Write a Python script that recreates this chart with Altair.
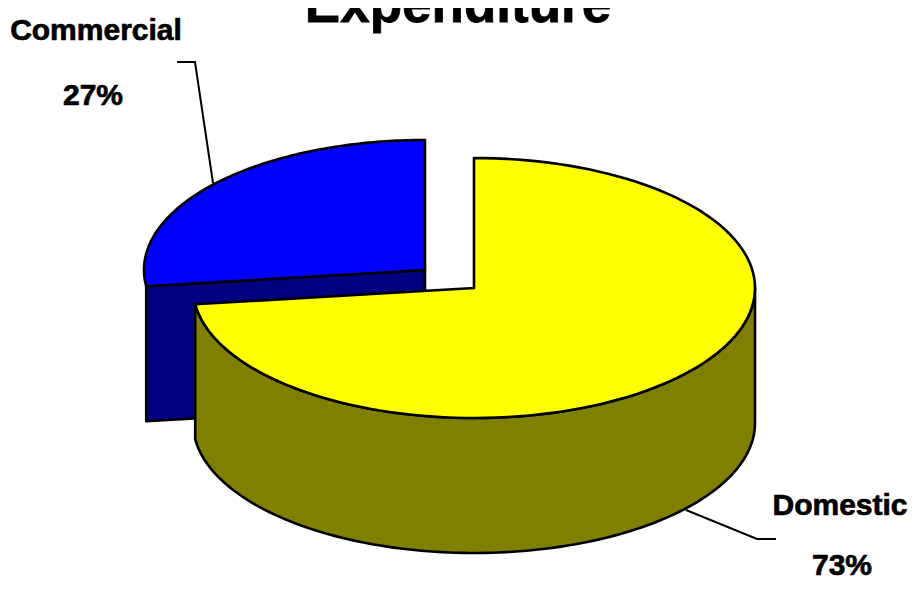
import math
import altair as alt
import pandas as pd

# values shown on the chart
categories = ["Domestic", "Commercial"]
shares = [73, 27]
title_text = "Expenditure"

# layout of the tilted pie, in page pixels
W, H = 903, 573
RX, RY, DEPTH = 281, 130, 135
CX = {"Domestic": 474, "Commercial": 425}
CY = {"Domestic": 288, "Commercial": 270}
TOP = {"Domestic": "#ffff00", "Commercial": "#0000ff"}
SIDE = {"Domestic": "#808000", "Commercial": "#000080"}


def pt(cat, deg, drop=0):
    r = math.radians(deg)
    return (CX[cat] + RX * math.cos(r), CY[cat] - RY * math.sin(r) + drop)


def arc(cat, a0, a1, n=120):
    return [pt(cat, a0 + (a1 - a0) * k / n) for k in range(n + 1)]


dom_end = 90 - 360 * shares[0] / 100
com_end = 90 + 360 * shares[1] / 100

polys = []
# Commercial: cut wall below the top, then the top
a = pt("Commercial", com_end)
polys.append((SIDE["Commercial"], [a, (CX["Commercial"], CY["Commercial"]),
                                   (CX["Commercial"], CY["Commercial"] + DEPTH),
                                   (a[0], a[1] + DEPTH)]))
polys.append((TOP["Commercial"], [(CX["Commercial"], CY["Commercial"])] + arc("Commercial", 90, com_end)))
# Domestic: outer wall, then the top
lo = arc("Domestic", dom_end, 0)
polys.append((SIDE["Domestic"], lo + [(x, y + DEPTH) for x, y in reversed(lo)]))
polys.append((TOP["Domestic"], [(CX["Domestic"], CY["Domestic"])] + arc("Domestic", 90, dom_end)))

X = alt.Scale(domain=[8, W + 8], range=[0, W])
Y = alt.Scale(domain=[8, H + 8], range=[0, H])
xe = dict(type="quantitative", scale=X, axis=None)
ye = dict(type="quantitative", scale=Y, axis=None)

layers = []
for color, pts in polys:
    df = pd.DataFrame({"x": [p[0] for p in pts], "y": [p[1] for p in pts], "i": range(len(pts))})
    layers.append(
        alt.Chart(df).mark_line(interpolate="linear-closed", fill=color, stroke="black",
                                strokeWidth=2.6, strokeJoin="round")
        .encode(x=alt.X("x", **xe), y=alt.Y("y", **ye), order="i:Q")
    )

leaders = [
    [(177, 62), (195, 62), (213, 183)],
    [(686, 510), (757, 539), (776, 539)],
]
for pts in leaders:
    df = pd.DataFrame({"x": [p[0] for p in pts], "y": [p[1] for p in pts], "i": range(len(pts))})
    layers.append(
        alt.Chart(df).mark_line(stroke="black", strokeWidth=2)
        .encode(x=alt.X("x", **xe), y=alt.Y("y", **ye), order="i:Q")
    )

FONT = "Liberation Sans"
labels = pd.DataFrame({
    "x": [96, 93, 840, 842],
    "y": [40, 105, 515, 575],
    "t": [categories[1], f"{shares[1]}%", categories[0], f"{shares[0]}%"],
})
layers.append(
    alt.Chart(labels).mark_text(font=FONT, fontWeight="bold", fontSize=30, color="black",
                                stroke="black", strokeWidth=0.7,
                                align="center", baseline="alphabetic")
    .encode(x=alt.X("x", **xe), y=alt.Y("y", **ye), text="t:N")
)
layers.append(
    alt.Chart(pd.DataFrame({"x": [458], "y": [22], "t": [title_text]}))
    .mark_text(font=FONT, fontWeight="bold", fontSize=53, color="black",
               stroke="black", strokeWidth=0.8,
               align="center", baseline="alphabetic")
    .encode(x=alt.X("x", **xe), y=alt.Y("y", **ye), text="t:N")
)

chart = (
    alt.layer(*layers)
    .properties(width=W, height=H, padding=0, autosize=alt.AutoSizeParams(type="none"), background="white")
    .configure_view(stroke=None)
)

chart.save("out.html", embed_options={"renderer": "svg", "actions": False})
